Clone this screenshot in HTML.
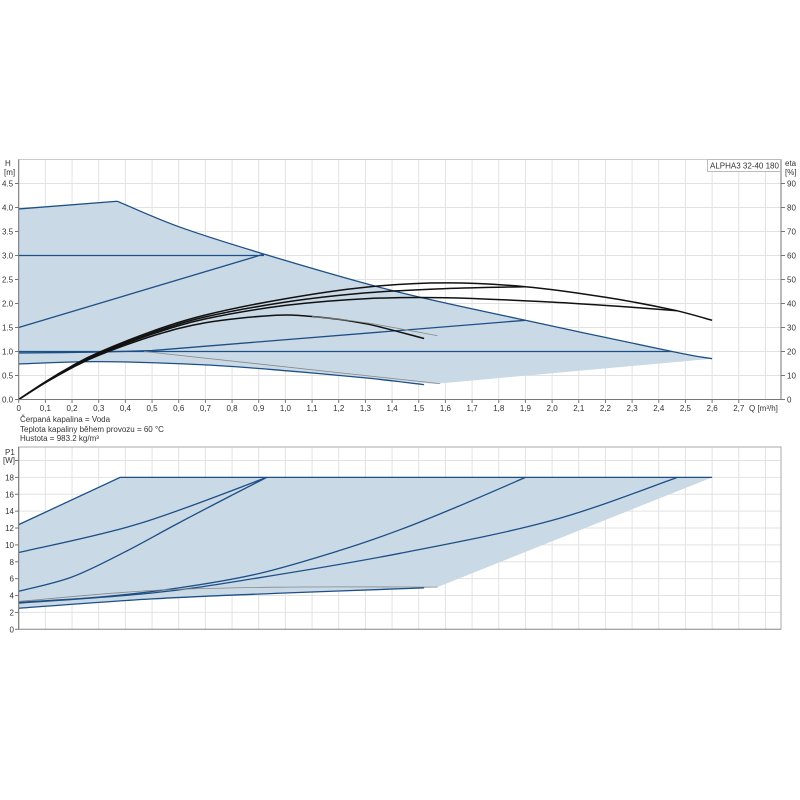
<!DOCTYPE html>
<html><head><meta charset="utf-8"><style>
html,body{margin:0;padding:0;background:#fff;width:800px;height:800px;overflow:hidden}
svg{display:block}
text{font-family:"Liberation Sans",sans-serif;font-size:8px;fill:#333}
</style></head><body>
<svg id="s" width="800" height="800" xmlns="http://www.w3.org/2000/svg"></svg>
<script>
const S=document.getElementById('s');
const X=q=>18.7+q*266.7, YT=h=>399.5-h*48, YB=p=>629.3-p*8.44;
let out='';
function add(s){out+=s;}
function cr(pts){
  let d='M'+pts[0][0].toFixed(1)+','+pts[0][1].toFixed(1);
  for(let i=0;i<pts.length-1;i++){
    const p0=pts[Math.max(0,i-1)],p1=pts[i],p2=pts[i+1],p3=pts[Math.min(pts.length-1,i+2)];
    const c1=[p1[0]+(p2[0]-p0[0])/6,p1[1]+(p2[1]-p0[1])/6];
    const c2=[p2[0]-(p3[0]-p1[0])/6,p2[1]-(p3[1]-p1[1])/6];
    d+=' C'+c1.map(v=>v.toFixed(1))+' '+c2.map(v=>v.toFixed(1))+' '+p2.map(v=>v.toFixed(1));
  }
  return d;
}
const T=a=>a.map(p=>[X(p[0]),YT(p[1])]);
const B=a=>a.map(p=>[X(p[0]),YB(p[1])]);
for(let i=0;i<=28;i++){const x=X(i/10);add(`<line x1="${x}" y1="159.5" x2="${x}" y2="399.5" stroke="#e2e2e2" stroke-width="1"/>`);add(`<line x1="${x}" y1="447" x2="${x}" y2="629.3" stroke="#e2e2e2" stroke-width="1"/>`);}
for(let i=1;i<=9;i++){const y=YT(i/2);add(`<line x1="18.7" y1="${y}" x2="781" y2="${y}" stroke="#e2e2e2"/>`);}
for(let i=1;i<=10;i++){const y=YB(i*2);add(`<line x1="18.7" y1="${y}" x2="781" y2="${y}" stroke="#e2e2e2"/>`);}
add(`<rect x="18.7" y="159.5" width="762.3" height="240" fill="none" stroke="#ccc"/>`);
add(`<rect x="18.7" y="447" width="762.3" height="182.3" fill="none" stroke="#aaa"/>`);
const upper=T([[0.37,4.13],[0.6,3.6],[0.92,3.03],[1.4,2.27],[1.9,1.65],[2.45,1.0],[2.6,0.85]]);
const lower=T([[0,0.74],[0.3,0.79],[0.7,0.72],[1.0,0.6],[1.3,0.45],[1.57,0.32]]);
let fp='M'+X(0)+','+YT(3.97)+' L'+X(0.37)+','+YT(4.13)+cr(upper).replace(/^M[^C]*/,'')+' L'+X(1.57)+','+YT(0.33)+' '+cr(lower.slice().reverse()).replace(/^M/,'L')+' Z';
add(`<path d="${fp}" fill="#c9d9e6" stroke="none"/>`);
const BL='stroke="#1d4f86" stroke-width="1.3" fill="none"';
add(`<path d="M${X(0)},${YT(3.97)} L${X(0.37)},${YT(4.13)}" ${BL}/>`);
add(`<path d="${cr(upper)}" ${BL}/>`);
add(`<path d="M${X(0)},${YT(3)} L${X(0.92)},${YT(3)}" ${BL}/>`);
add(`<path d="M${X(0)},${YT(1.5)} L${X(0.92)},${YT(3.03)}" ${BL}/>`);
add(`<path d="M${X(0)},${YT(1.0)} L${X(2.45)},${YT(1.0)}" ${BL}/>`);
add(`<path d="M${X(0)},${YT(0.97)} Q${X(0.3)},${YT(0.98)} ${X(0.5)},${YT(1.02)} L${X(1.9)},${YT(1.65)}" ${BL}/>`);
add(`<path d="${cr(T([[0,0.74],[0.3,0.79],[0.7,0.72],[1.0,0.6],[1.3,0.45],[1.52,0.31]]))}" ${BL}/>`);
add(`<path d="M${X(0.47)},${YT(1.0)} L${X(1.58)},${YT(0.33)}" stroke="#888" stroke-width="0.8" fill="none"/>`);
const K='stroke="#111" stroke-width="1.5" fill="none"';
add(`<path d="${cr(T([[0,0],[0.1,0.37],[0.2,0.7],[0.3,0.98],[0.5,1.42],[0.7,1.76],[1.0,2.1],[1.3,2.34],[1.6,2.43],[1.9,2.35],[2.2,2.13],[2.45,1.87],[2.6,1.65]]))}" ${K}/>`);
add(`<path d="${cr(T([[0,0],[0.1,0.36],[0.2,0.68],[0.3,0.96],[0.5,1.39],[0.7,1.72],[1.0,2.03],[1.3,2.22],[1.6,2.31],[1.9,2.35]]))}" ${K}/>`);
add(`<path d="${cr(T([[0,0],[0.1,0.36],[0.2,0.67],[0.3,0.94],[0.5,1.36],[0.7,1.68],[1.0,1.96],[1.3,2.1],[1.6,2.12],[2.0,2.03],[2.3,1.92],[2.47,1.85]]))}" ${K}/>`);
add(`<path d="${cr(T([[0,0],[0.1,0.35],[0.2,0.66],[0.3,0.92],[0.5,1.32],[0.7,1.6],[0.95,1.75],[1.1,1.73],[1.3,1.58],[1.52,1.27]]))}" ${K}/>`);
add(`<path d="${cr(T([[1.1,1.73],[1.3,1.6],[1.57,1.33]]))}" stroke="#888" stroke-width="0.8" fill="none"/>`);
const bl=B([[0,2.5],[0.5,3.6],[1.0,4.3],[1.52,4.9]]);
add(`<path d="M${X(0)},${YB(12.4)} L${X(0.38)},${YB(18)} L${X(2.6)},${YB(18)} L${X(1.57)},${YB(5.0)} L${X(1.52)},${YB(4.9)} ${cr(bl.slice().reverse()).replace(/^M[^C]*/,'')} Z" fill="#c9d9e6"/>`);
add(`<path d="M${X(0)},${YB(12.4)} L${X(0.38)},${YB(18)} L${X(2.6)},${YB(18)}" ${BL}/>`);
add(`<path d="${cr(B([[0,9.1],[0.45,12.5],[0.93,18]]))}" ${BL}/>`);
add(`<path d="${cr(B([[0,4.5],[0.2,6.2],[0.4,9.2],[0.6,12.6],[0.8,15.9],[0.93,18]]))}" ${BL}/>`);
add(`<path d="${cr(B([[0,3.2],[0.3,3.8],[0.6,4.9],[0.9,6.6],[1.2,9.3],[1.43,11.8],[1.65,14.6],[1.9,18]]))}" ${BL}/>`);
add(`<path d="${cr(B([[0,3.1],[0.5,4.3],[0.9,6.1],[1.43,9.0],[2.0,12.9],[2.47,18]]))}" ${BL}/>`);
add(`<path d="${cr(B([[0,3.3],[0.5,4.6],[1.0,5.0],[1.57,5.0]]))}" stroke="#888" stroke-width="0.8" fill="none"/>`);
add(`<path d="${cr(bl)}" ${BL}/>`);
add(`<line x1="18.7" y1="159.5" x2="18.7" y2="399.5" stroke="#777"/><line x1="18.7" y1="399.5" x2="781" y2="399.5" stroke="#777"/><line x1="781" y1="159.5" x2="781" y2="399.5" stroke="#777"/>`);
add(`<line x1="18.7" y1="447" x2="18.7" y2="629.3" stroke="#777"/><line x1="18.7" y1="629.3" x2="781" y2="629.3" stroke="#999"/>`);
for(let i=0;i<=9;i++){const y=YT(i/2);add(`<line x1="15" x2="18.7" y1="${y}" y2="${y}" stroke="#777"/><text x="2" y="${y+3}">${(i/2).toFixed(1)}</text>`);}
for(let i=0;i<=9;i++){const y=YT(i/2);add(`<line x1="781" x2="785" y1="${y}" y2="${y}" stroke="#777"/><text x="787" y="${y+3}">${i*10}</text>`);}
for(let i=0;i<=27;i++){const x=X(i/10);add(`<line x1="${x}" x2="${x}" y1="399.5" y2="403" stroke="#777"/><text x="${x}" y="411" text-anchor="middle">${i==0?'0':(i/10).toFixed(1).replace('.',',')}</text>`);}
add(`<text x="749" y="411">Q [m³/h]</text>`);
for(let i=0;i<=9;i++){const y=YB(i*2);add(`<line x1="15" x2="18.7" y1="${y}" y2="${y}" stroke="#777"/><text x="14" y="${y+3}" text-anchor="end">${i*2}</text>`);}
add(`<line x1="15" x2="18.7" y1="${YB(20)}" y2="${YB(20)}" stroke="#777"/>`);
add(`<text x="5" y="455">P1</text><text x="3" y="463">[W]</text>`);
add(`<text x="5" y="166">H</text><text x="4" y="175">[m]</text>`);
add(`<text x="785" y="166">eta</text><text x="785" y="175">[%]</text>`);
add(`<rect x="707.5" y="159.5" width="73" height="12" fill="#fff" stroke="#bbb"/><text x="710" y="168.5">ALPHA3 32-40 180</text>`);
add(`<text x="20" y="422">Čerpaná kapalina = Voda</text><text x="20" y="432">Teplota kapaliny během provozu = 60 °C</text><text x="20" y="441">Hustota = 983.2 kg/m³</text>`);
S.innerHTML=out;
</script>
</body></html>
